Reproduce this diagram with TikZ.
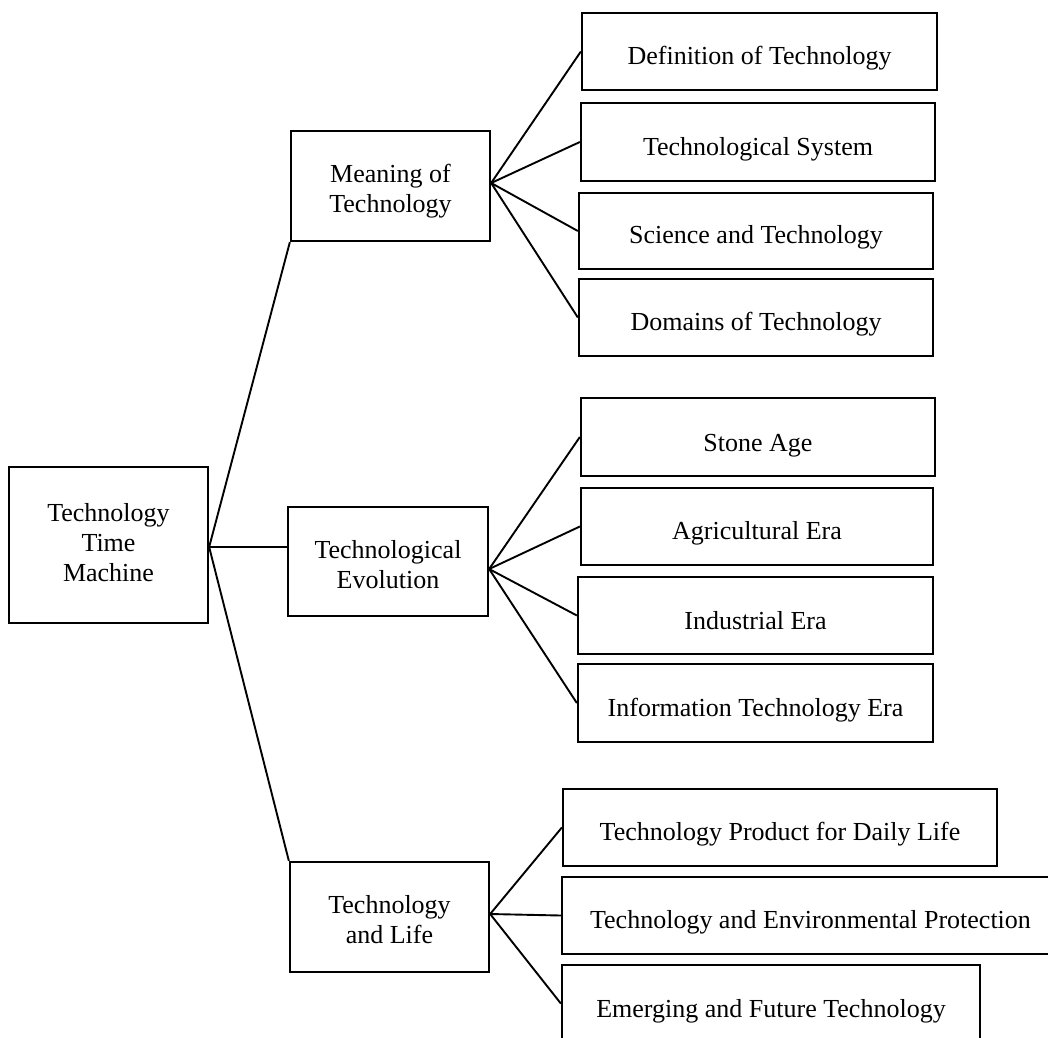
\documentclass[tikz,border=0pt]{standalone}
\usepackage{fontspec}
\setmainfont{Liberation Serif}
\begin{document}
\begin{tikzpicture}[x=1pt,y=-1pt,
  box/.style={draw, line width=2.3pt, inner sep=0pt},
  bw/.style 2 args={minimum width=#1pt, minimum height=#2pt},
  txt/.style={inner sep=0pt, anchor=base, align=center,
    font=\fontsize{26}{30}\selectfont},
  link/.style={line width=1.9pt}]
\useasboundingbox (0,0) rectangle (1048,1037);
\clip (0,0) rectangle (1048,1037);

% frames: root and the three topics
\node[box, bw={199}{156}] (root) at (108.5,545) {};
\node[box, bw={199}{110}] (mean) at (390.5,186) {};
\node[box, bw={200}{109}] (evol) at (388,561.5) {};
\node[box, bw={199}{110}] (life) at (389.5,917) {};

% frames: Meaning of Technology
\node[box, bw={355}{77}] (def) at (759.5,51.5) {};
\node[box, bw={354}{78}] (sys) at (758,142) {};
\node[box, bw={354}{76}] (sci) at (756,231) {};
\node[box, bw={354}{77}] (dom) at (756,317.5) {};

% frames: Technological Evolution
\node[box, bw={354}{78}] (stone) at (758,437) {};
\node[box, bw={352}{77}] (agri) at (757,526.5) {};
\node[box, bw={355}{77}] (ind) at (755.5,615.5) {};
\node[box, bw={355}{78}] (info) at (755.5,703) {};

% frames: Technology and Life
\node[box, bw={434}{77}] (prod) at (780,827.5) {};
\node[box, bw={497}{77}] (env) at (810.5,915.5) {};
\node[box, bw={418}{77}] (emer) at (771,1003.5) {};

% labels (last baseline placed relative to each frame centre)
\node[txt] (root-t) at ([yshift=-36pt]root.center) {Technology\\Time\\Machine};
\node[txt] (mean-t) at ([yshift=-26pt]mean.center) {Meaning of\\Technology};
\node[txt] (evol-t) at ([yshift=-26.5pt]evol.center) {Technological\\Evolution};
\node[txt] (life-t) at ([yshift=-26pt]life.center) {Technology\\and Life};

\node[txt] (def-t) at ([yshift=-12.5pt]def.center) {Definition of Technology};
\node[txt] (sys-t) at ([yshift=-13pt]sys.center) {Technological System};
\node[txt] (sci-t) at ([yshift=-12pt]sci.center) {Science and Technology};
\node[txt] (dom-t) at ([yshift=-12.5pt]dom.center) {Domains of Technology};

\node[txt] (stone-t) at ([yshift=-14pt]stone.center) {Stone Age};
\node[txt] (agri-t) at ([yshift=-12.5pt]agri.center) {Agricultural Era};
\node[txt] (ind-t) at ([yshift=-13.5pt]ind.center) {Industrial Era};
\node[txt] (info-t) at ([yshift=-13pt]info.center) {Information Technology Era};

\node[txt] (prod-t) at ([yshift=-12.5pt]prod.center) {Technology Product for Daily Life};
\node[txt] (env-t) at ([yshift=-12.5pt]env.center) {Technology and Environmental Protection};
\node[txt] (emer-t) at ([yshift=-13.5pt]emer.center) {Emerging and Future Technology};

% branching points
\coordinate (rootfan) at ([yshift=-2pt]root.east);
\coordinate (meanfan) at ([yshift=3pt]mean.east);
\coordinate (evolfan) at ([yshift=-7.5pt]evol.east);
\coordinate (lifefan) at ([yshift=3pt]life.east);

% connectors
\draw[link] (rootfan) -- (mean.south west);
\draw[link] (rootfan) -- (rootfan -| evol.west);
\draw[link] (rootfan) -- (life.north west);

\foreach \c in {def,sys,sci,dom} \draw[link] (meanfan) -- (\c.west);
\foreach \c in {stone,agri,ind,info} \draw[link] (evolfan) -- (\c.west);
\foreach \c in {prod,env,emer} \draw[link] (lifefan) -- (\c.west);
\end{tikzpicture}
\end{document}
